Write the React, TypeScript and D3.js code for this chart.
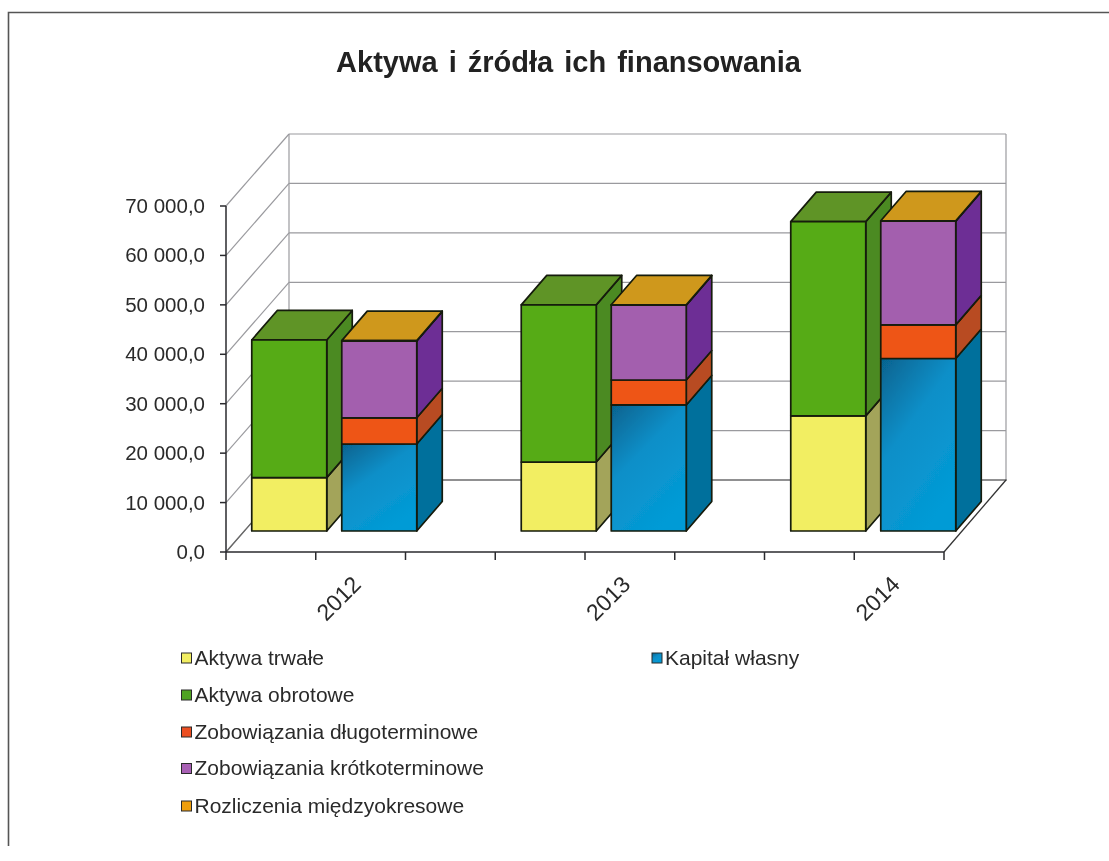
import React from "react";
import * as d3 from "d3";

const title = "Aktywa i źródła ich finansowania";
const years = ["2012", "2013", "2014"];
const yTicks = [0, 10000, 20000, 30000, 40000, 50000, 60000, 70000];
const aktywaTrwale = [10800, 13950, 23300];
const aktywaObrotowe = [27850, 31800, 39300];
const kapitalWlasny = [17600, 25500, 34900];
const zobDlugo = [5300, 5050, 6800];
const zobKrotko = [15550, 15150, 21000];
const rozliczenia = [60, 60, 60];
const xTickCount = 8;

const seriesNames = ["Aktywa trwałe", "Aktywa obrotowe", "Zobowiązania długoterminowe", "Zobowiązania krótkoterminowe", "Rozliczenia międzyokresowe"];
const col = {
  yellow: ["#f2ee62", "#a3a45a"],
  green: ["#56ab18", "#4c8a22", "#5e9428"],
  blue: ["#0893cf", "#04709c"],
  red: ["#ee5418", "#b84c20"],
  purple: ["#a35fae", "#6d2f95"],
  orange: ["#cf981c", "#cf981c"],
};

const W = 1109, H = 861;
const y0 = 552, y70 = 206, xL = 226, xR = 944;
const depthX = 63, depthY = 72;
const barDX = 25.5, barDY = 29.5, barBase = 531;

const yAxis = d3.scaleLinear().domain([0, 70000]).range([y0, y70]);
const barH = (v: number) => yAxis(0) - yAxis(v);
const xCenter = d3.scalePoint().domain(years).range([334.25, 873.25]);
const sub = d3.scaleBand().domain(["a", "b"]).range([-82.5, 82.5]).paddingInner(0.1667);
const xTicks = d3.range(xTickCount + 1).map((i) => d3.interpolateNumber(xL, xR)(i / xTickCount));

const pts = (p: number[][]) => p.map((q) => q.join(",")).join(" ");

function Box({ x, w, b, t, front, side, top }: { x: number; w: number; b: number; t: number; front: string; side: string; top?: string }) {
  const r = x + w;
  return (
    <g stroke="#141a0a" strokeWidth={1.7} strokeLinejoin="round">
      <polygon points={pts([[r, b], [r + barDX, b - barDY], [r + barDX, t - barDY], [r, t]])} fill={side} />
      {top && <polygon points={pts([[x, t], [x + barDX, t - barDY], [r + barDX, t - barDY], [r, t]])} fill={top} />}
      <rect x={x} y={t} width={w} height={b - t} fill={front} />
    </g>
  );
}

function Stack({ year, i, key2, layers }: { year: string; i: number; key2: string; layers: { v: number[]; c: string[]; top?: string }[] }) {
  const x = (xCenter(year) as number) + (sub(key2) as number);
  const w = sub.bandwidth();
  let acc = 0;
  return (
    <g>
      {layers.map((l, k) => {
        const b = barBase - barH(acc);
        acc += l.v[i];
        const t = barBase - barH(acc);
        return <Box key={k} x={x} w={w} b={b} t={t} front={l.c[0]} side={l.c[1]} top={l.top} />;
      })}
    </g>
  );
}

const legendLeft = [
  { n: seriesNames[0], c: "#f2ee62", y: 658 },
  { n: seriesNames[1], c: "#4fa320", y: 695 },
  { n: seriesNames[2], c: "#ec5020", y: 732 },
  { n: seriesNames[3], c: "#a860b4", y: 768.5 },
  { n: seriesNames[4], c: "#ee9e10", y: 806 },
];

export default function App() {
  const font = "'Liberation Sans', Arial, sans-serif";
  return (
    <svg width={W} height={H} style={{ position: "absolute", left: 0, top: 0, background: "#fff" }} fontFamily={font}>
      <defs>
        <filter id="scan" x="0" y="0" width="100%" height="100%">
          <feGaussianBlur stdDeviation="0.55" />
        </filter>
        <linearGradient id="blueFront" x1="0" y1="0" x2="0.6" y2="1">
          <stop offset="0" stopColor="#06628e" />
          <stop offset="0.45" stopColor="#0b8fc8" />
          <stop offset="1" stopColor="#049bd6" />
        </linearGradient>
      </defs>
      <g filter="url(#scan)">
        <rect width={W} height={H} fill="#fff" />
        <path d="M8.5,846V12.5H1109" fill="none" stroke="#555" strokeWidth={1.6} />
        <text x={568.5} y={72} textAnchor="middle" fontSize={29} fontWeight={700} fill="#222" wordSpacing={3}>{title}</text>

        {/* walls */}
        <g fill="none" stroke="#9a9a9e" strokeWidth={1.2}>
          {yTicks.map((t) => (
            <g key={t}>
              <line x1={xL} x2={xL + depthX} y1={yAxis(t)} y2={yAxis(t) - depthY} />
              <line x1={xL + depthX} x2={xR + depthX - 1} y1={yAxis(t) - depthY} y2={yAxis(t) - depthY} />
            </g>
          ))}
          <line x1={xL + depthX} x2={xL + depthX} y1={yAxis(70000) - depthY} y2={yAxis(0) - depthY} />
          <line x1={xR + depthX - 1} x2={xR + depthX - 1} y1={yAxis(70000) - depthY} y2={yAxis(0) - depthY} />
        </g>
        <line x1={xL + depthX} x2={xR + depthX} y1={y0 - depthY} y2={y0 - depthY} stroke="#555" strokeWidth={1.2} />
        <line x1={xR} x2={xR + depthX - 1} y1={y0} y2={y0 - depthY} stroke="#333" strokeWidth={1.3} />
        <line x1={xL} x2={xL + depthX} y1={y0} y2={y0 - depthY} stroke="#666" strokeWidth={1.2} />

        {/* axes */}
        <g stroke="#2a2a2e" strokeWidth={1.5}>
          <line x1={xL} x2={xL} y1={y70} y2={y0} />
          <line x1={xL} x2={xR} y1={y0} y2={y0} />
          {yTicks.map((t) => <line key={t} x1={xL - 6} x2={xL} y1={yAxis(t)} y2={yAxis(t)} />)}
          {xTicks.map((t) => <line key={t} x1={t} x2={t} y1={y0} y2={y0 + 8} />)}
        </g>
        <g fontSize={20.5} fill="#2a2a2a" textAnchor="end">
          {yTicks.map((t) => (
            <text key={t} x={205} y={yAxis(t) + 7}>{t === 0 ? "0,0" : `${t / 1000} 000,0`}</text>
          ))}
        </g>
        <g fontSize={23} fill="#2a2a2a" textAnchor="middle">
          {years.map((yr) => {
            const cx = (xCenter(yr) as number) + 10;
            return <text key={yr} transform={`translate(${cx},604) rotate(-45)`}>{yr}</text>;
          })}
        </g>

        {/* bars */}
        {years.map((yr, i) => (
          <g key={yr}>
            <Stack year={yr} i={i} key2="a" layers={[
              { v: aktywaTrwale, c: col.yellow },
              { v: aktywaObrotowe, c: col.green, top: col.green[2] },
            ]} />
            <Stack year={yr} i={i} key2="b" layers={[
              { v: kapitalWlasny, c: ["url(#blueFront)", col.blue[1]] },
              { v: zobDlugo, c: col.red },
              { v: zobKrotko, c: col.purple },
              { v: rozliczenia, c: col.orange, top: col.orange[0] },
            ]} />
          </g>
        ))}

        {/* legend */}
        <g fontSize={21} fill="#2a2a2a">
          {legendLeft.map((l) => (
            <g key={l.n}>
              <rect x={181.5} y={l.y - 5} width={10} height={10} fill={l.c} stroke="#2a2a2a" strokeWidth={1} />
              <text x={194.5} y={l.y + 6.5}>{l.n}</text>
            </g>
          ))}
          <rect x={652} y={653} width={10} height={10} fill="url(#blueFront)" stroke="#2a2a2a" strokeWidth={1} />
          <text x={665} y={664.5}>Kapitał własny</text>
        </g>
      </g>
    </svg>
  );
}
